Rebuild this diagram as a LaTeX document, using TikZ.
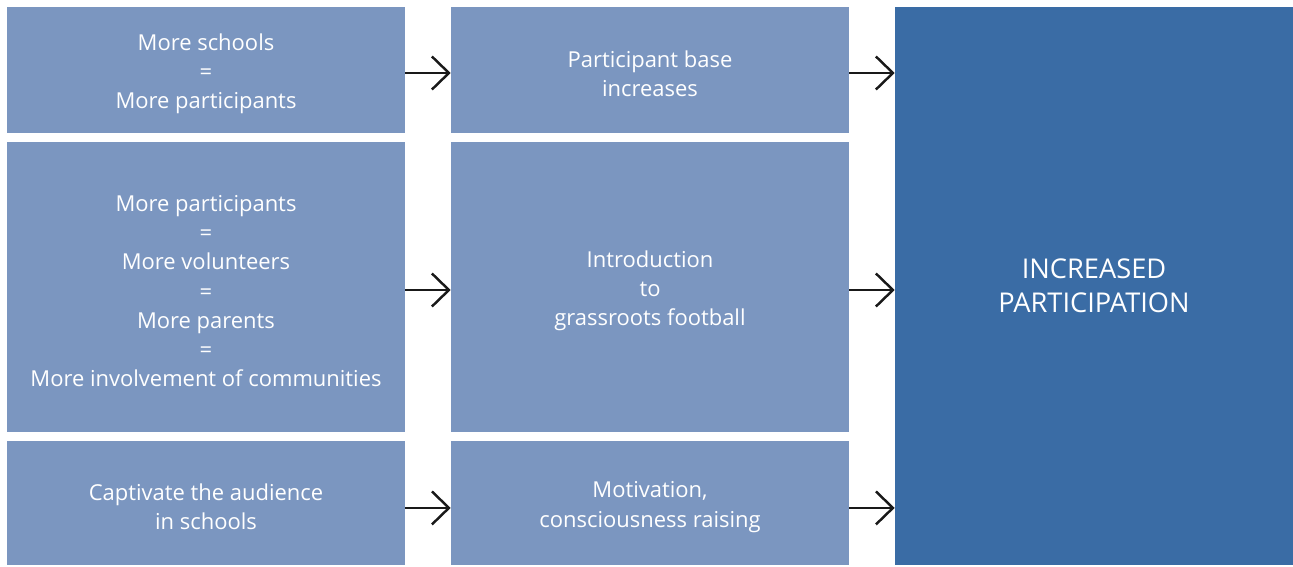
\documentclass[tikz,border=0pt]{standalone}
\usepackage{fontspec}
\setmainfont{Open Sans}
\usetikzlibrary{arrows.meta, positioning}
\definecolor{paleblue}{HTML}{7B96C0}
\definecolor{deepblue}{HTML}{3A6CA5}
\tikzset{
    box/.style={rectangle, fill=paleblue, minimum width=7.96cm, inner sep=0pt},
    boxtext/.style={text=white, align=center, yshift=-2.3pt,
        font=\fontsize{12.5}{16.6}\selectfont},
    says/.style={label={[boxtext]center:#1}},
    goal/.style={rectangle, fill=deepblue, text=white, align=center,
        minimum width=7.96cm, minimum height=11.16cm, inner sep=0pt,
        font=\fontsize{15.5}{19.5}\selectfont},
    flow/.style={-{Straight Barb[length=0.34cm,width=0.66cm,line width=1.4pt]},
        line width=1.4pt, black!90}}
\begin{document}
\begin{tikzpicture}[x=0.02cm,y=-0.02cm]
\useasboundingbox (0,0) rectangle (1293,566);
% first column
\node[box, minimum height=2.52cm, says={More schools\\=\\More participants}]
    (schools) at (206,70) {};
\node[box, minimum height=5.8cm,
    says={More participants\\=\\More volunteers\\=\\More parents\\=\\More involvement of communities}]
    (people) at (206,287) {};
\node[box, minimum height=2.48cm, says={Captivate the audience\\in schools}]
    (audience) at (206,503) {};
% second column
\node[box, minimum height=2.52cm, says={Participant base\\increases}]
    (base) at (650,70) {};
\node[box, minimum height=5.8cm, says={Introduction\\to\\grassroots football}]
    (intro) at (650,287) {};
\node[box, minimum height=2.48cm, says={Motivation,\\consciousness raising}]
    (motiv) at (650,503) {};
% result
\node[goal] (result) at (1094,286) {INCREASED\\PARTICIPATION};

\draw[flow] ([yshift=-1.7pt]schools.east) -- ([yshift=-1.7pt]base.west);
\draw[flow] ([yshift=-1.7pt]people.east) -- ([yshift=-1.7pt]intro.west);
\draw[flow] ([yshift=-2.8pt]audience.east) -- ([yshift=-2.8pt]motiv.west);
\draw[flow] ([yshift=-1.7pt]base.east) -- ([yshift=-1.7pt]base.east -| result.west);
\draw[flow] ([yshift=-1.7pt]intro.east) -- ([yshift=-1.7pt]intro.east -| result.west);
\draw[flow] ([yshift=-2.8pt]motiv.east) -- ([yshift=-2.8pt]motiv.east -| result.west);
\end{tikzpicture}
\end{document}
